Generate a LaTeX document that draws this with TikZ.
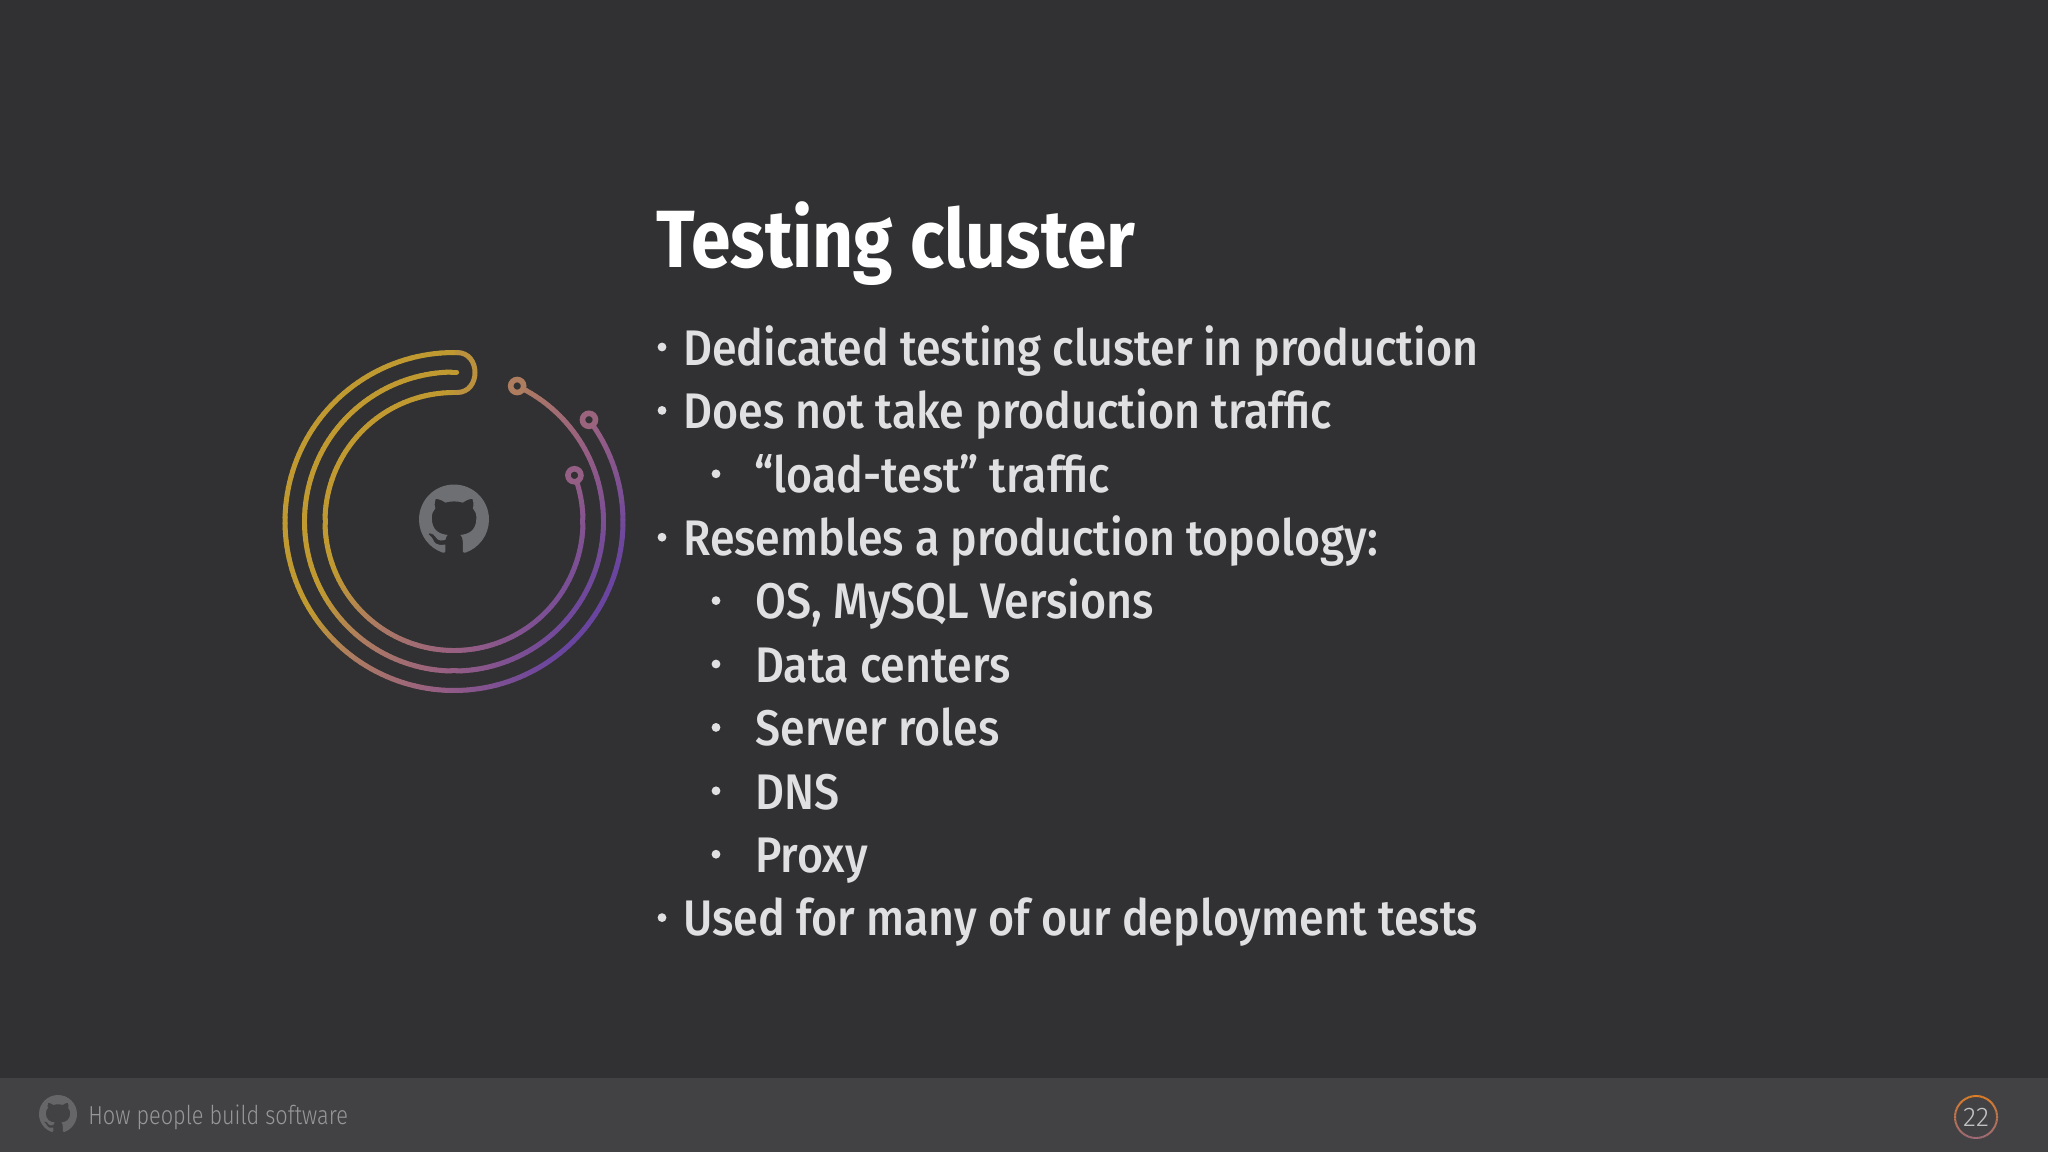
\documentclass[tikz,border=0pt]{standalone}
\usepackage{fontspec}
\usetikzlibrary{svg.path}
\setmainfont[FakeStretch=0.895]{Fira Sans Medium}
\newfontfamily\titlefont[FakeStretch=0.88]{Fira Sans Bold}
\newfontfamily\lightfont[FakeStretch=0.835]{Fira Sans Light}
\newfontfamily\pagefont{Fira Sans Light}
\definecolor{bgc}{HTML}{313133}
\definecolor{barc}{HTML}{424244}
\definecolor{txtc}{HTML}{E0E0E2}
\definecolor{foot}{HTML}{979799}
\definecolor{gGold}{HTML}{C09A30}
\definecolor{gTan}{HTML}{AE7C60}
\definecolor{gMauve}{HTML}{965E84}
\definecolor{gPurple}{HTML}{6A459F}
\newcommand\setgrad[1]{% t in [-1,1]
  \pgfmathsetmacro\gpos{#1}%
  \pgfmathsetmacro\gA{max(0,min(100,(\gpos+0.45)/0.35*100))}%
  \pgfmathsetmacro\gB{max(0,min(100,(\gpos+0.1)/0.55*100))}%
  \pgfmathsetmacro\gC{max(0,min(100,(\gpos-0.45)/0.5*100))}%
  \pgfmathparse{\gpos<-0.1?1:(\gpos<0.45?2:3)}%
  \ifdim\pgfmathresult pt<1.5pt \colorlet{segc}{gTan!\gA!gGold}\else
  \ifdim\pgfmathresult pt<2.5pt \colorlet{segc}{gMauve!\gB!gTan}\else
  \colorlet{segc}{gPurple!\gC!gMauve}\fi\fi}
\newcommand\gradarc[3]{% radius, start, end; ring around (454,521.5)
  \pgfmathsetmacro\secondang{#2+2}%
  \foreach \a in {#2,\secondang,...,#3}{%
    \pgfmathsetmacro\b{min(\a+2,#3)}%
    \setgrad{(0.85*#1*cos(\a)-0.53*#1*sin(\a))/170}%
    \draw[ringline,segc] ({454+#1*cos(\a)},{521.5-#1*sin(\a)}) -- ({454+#1*cos(\b)},{521.5-#1*sin(\b)});
  }%
  \setgrad{(0.85*#1*cos(#3)-0.53*#1*sin(#3))/170}%
  \draw[ringdot,draw=segc] ({454+#1*cos(#3)},{521.5-#1*sin(#3)}) circle[radius=6.5];
}
\newcommand\octomark{svg {M 8 0 C 3.58 0 0 3.58 0 8 c 0 3.54 2.29 6.53 5.47 7.59 c .4 .07 .55 -.17 .55 -.38 c 0 -.19 -.01 -.82 -.01 -1.49 c -2.01 .37 -2.53 -.49 -2.69 -.94 c -.09 -.23 -.48 -.94 -.82 -1.13 c -.28 -.15 -.68 -.52 -.01 -.53 c .63 -.01 1.08 .58 1.23 .82 c .72 1.21 1.87 .87 2.33 .66 c .07 -.52 .28 -.87 .51 -1.07 c -1.78 -.2 -3.64 -.89 -3.64 -3.95 c 0 -.87 .31 -1.59 .82 -2.15 c -.08 -.2 -.36 -1.02 .08 -2.12 c 0 0 .67 -.21 2.2 .82 c .64 -.18 1.32 -.27 2 -.27 c .68 0 1.36 .09 2 .27 c 1.53 -1.04 2.2 -.82 2.2 -.82 c .44 1.1 .16 1.92 .08 2.12 c .51 .56 .82 1.27 .82 2.15 c 0 3.07 -1.87 3.75 -3.65 3.95 c .29 .25 .54 .73 .54 1.48 c 0 1.07 -.01 1.93 -.01 2.2 c 0 .21 .15 .46 .55 .38 C 13.71 14.53 16 11.53 16 8 c 0 -4.42 -3.58 -8 -8 -8 z}}
\tikzset{
  ringline/.style={line width=2.5pt,line cap=round},
  ringdot/.style={line width=2.8pt,fill=bgc},
  bodytext/.style={anchor=base west,inner sep=0pt,text=txtc,font=\fontsize{25}{30}\selectfont},
  bulletdot/.style={circle,fill=txtc,inner sep=0pt,minimum size=4.4pt},
}
\definecolor{markc}{HTML}{6E6F72}
\definecolor{footmark}{HTML}{666668}
\begin{document}
\begin{tikzpicture}[x=0.5pt,y=-0.5pt]
\useasboundingbox (0,0) rectangle (2048,1152);
\fill[bgc] (0,0) rectangle (2048,1152);
\fill[barc] (0,1078) rectangle (2048,1152);
% ring
\gradarc{169}{88.6}{397}
\gradarc{149.5}{89}{425}
\gradarc{129}{89}{381}
\draw[ringline,color=gGold!70!gTan] (457,352.5) .. controls (481,352.5) and (481,392.5) .. (457,392.5);
% centre mark
\fill[color=markc,cm={2.1875,0,0,-2.1875,(419,484.5)}] \octomark;
% footer mark
\fill[color=footmark,cm={1.1875,0,0,-1.1875,(39,1095)}] \octomark;
% title
\node[anchor=base west,inner sep=0pt,text=white,font=\titlefont\fontsize{40.6}{48}\selectfont] (title) at (656,267) {Testing cluster};
% bullets
\node[bodytext] (l1) at (683,365.3) {Dedicated testing cluster in production};
\node[bodytext] (l2) at (683,428.7) {Does not take production traffic};
\node[bodytext] (l3) at (754,492.1) {“load-test” traffic};
\node[bodytext] (l4) at (683,555.5) {Resembles a production topology:};
\node[bodytext] (l5) at (755,618.9) {OS, MySQL Versions};
\node[bodytext] (l6) at (755,682.3) {Data centers};
\node[bodytext] (l7) at (755,745.7) {Server roles};
\node[bodytext] (l8) at (755,809.1) {DNS};
\node[bodytext] (l9) at (755,872.5) {Proxy};
\node[bodytext] (l10) at (683,935.9) {Used for many of our deployment tests};
\foreach \yy in {347,410.4,537.2,917.6}{\node[bulletdot] at (662,\yy) {};}
\foreach \yy in {473.8,600.6,664,727.4,790.8,854.2}{\node[bulletdot] at (716,\yy) {};}
% footer
\node[anchor=base west,inner sep=0pt,text=foot,font=\lightfont\fontsize{13}{16}\selectfont] (foottext) at (88,1124) {How people build software};
\foreach \a in {0,4,...,356}{
  \pgfmathsetmacro\b{\a+4}
  \pgfmathsetmacro\m{50-50*sin(\a+2)}
  \colorlet{segc}{gMauve!\m!orange!60!gTan}
  \draw[line width=1pt,segc] ({1976+21*cos(\a)},{1117-21*sin(\a)}) -- ({1976+21*cos(\b)},{1117-21*sin(\b)});
}
\node[inner sep=0pt,text=foot!60!white,font=\pagefont\fontsize{13.5}{15}\selectfont] (pagenum) at (1976,1117) {22};
\end{tikzpicture}
\end{document}
